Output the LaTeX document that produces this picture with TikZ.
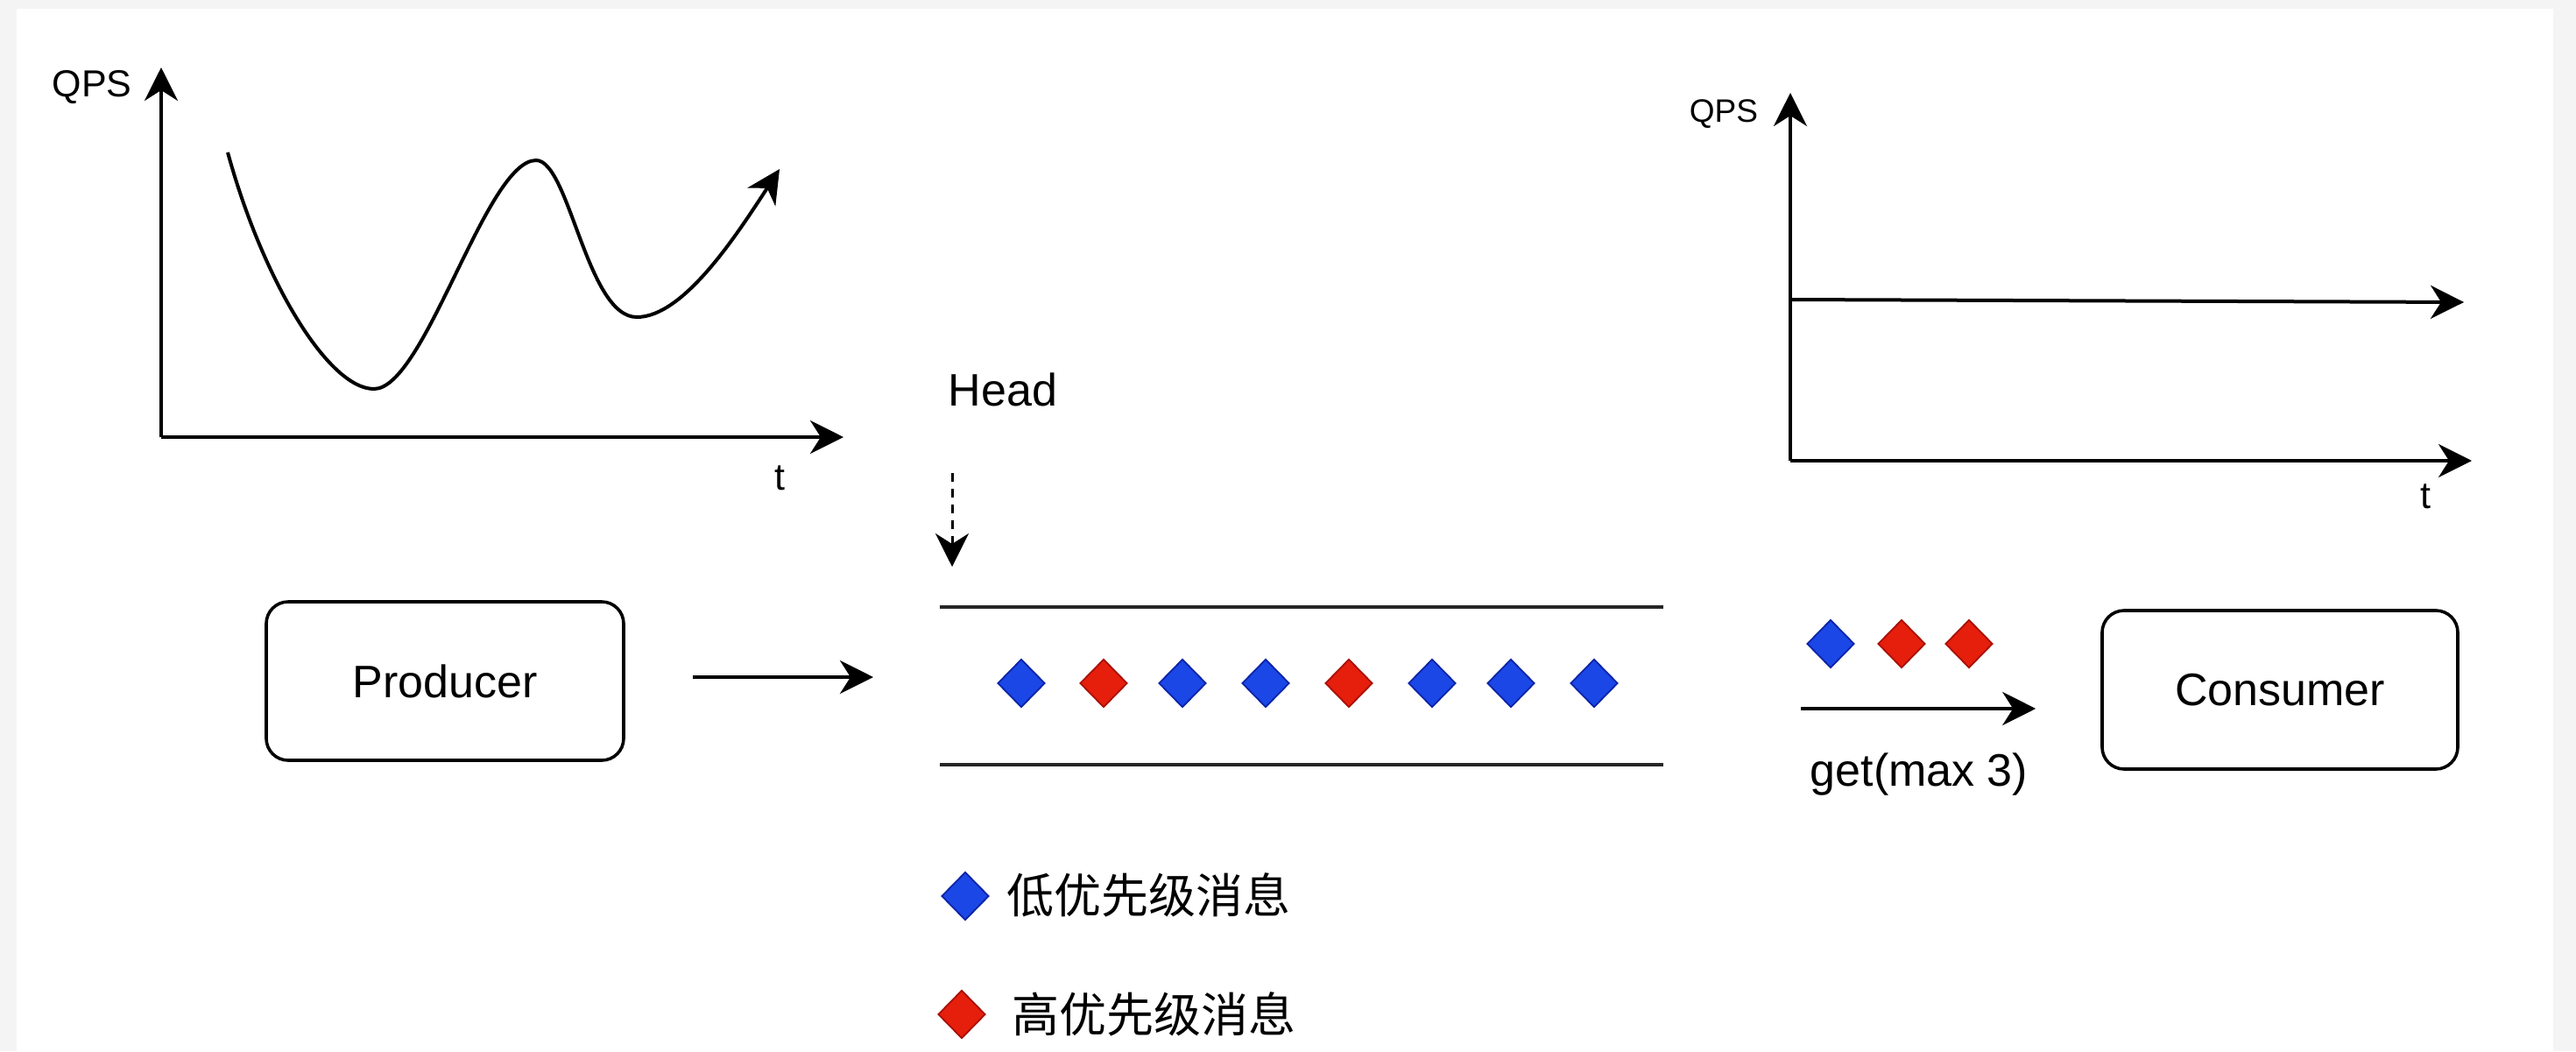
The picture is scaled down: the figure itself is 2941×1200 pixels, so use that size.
\documentclass[tikz,border=0pt]{standalone}
\usepackage{fontspec}
\setmainfont{Liberation Sans}
\newfontfamily\cjk{Noto Sans CJK SC}
\usetikzlibrary{arrows.meta,shapes.geometric}
\definecolor{lowfill}{HTML}{1A47E6}
\definecolor{lowdraw}{HTML}{0D23A8}
\definecolor{highfill}{HTML}{E61E0C}
\definecolor{highdraw}{HTML}{A81008}
\definecolor{margin}{HTML}{F4F4F4}
\tikzset{
  tip/.tip={Stealth[length=19pt,width=19pt,inset=6pt]},
  arr/.style={line width=2pt,-tip},
  headarr/.style={line width=1.5pt,dash pattern=on 5pt off 4pt,-tip},
  axisline/.style={line width=2pt},
  qline/.style={line width=2pt,draw=black!85},
  box/.style={draw,line width=1.8pt,rounded corners=12.5pt,minimum width=204pt,minimum height=90.5pt,inner sep=0pt,font=\fontsize{26}{30}\selectfont},
  lbl/.style={inner sep=0pt,anchor=base,font=\fontsize{26}{30}\selectfont},
  axlbl/.style={inner sep=0pt,anchor=base,font=\fontsize{21.5}{25}\selectfont},
  msg/.style={diamond,minimum width=27pt,minimum height=27.5pt,inner sep=0pt,line width=0.9pt},
  low/.style={msg,fill=lowfill,draw=lowdraw},
  high/.style={msg,fill=highfill,draw=highdraw},
  legend/.style={inner sep=0pt,anchor=west,font=\cjk\fontsize{27}{30}\selectfont}
}
\begin{document}
\begin{tikzpicture}[x=0.5pt,y=-0.5pt]
\useasboundingbox (0,0) rectangle (2941,1200);
\fill[margin] (0,0) rectangle (2941,1200);
\fill[white] (19,10) rectangle (2915,1200);

% left chart
\coordinate (o1) at (184,499);
\coordinate (y1) at (184,77);
\coordinate (x1) at (963,499);
\draw[axisline,-tip] (o1) -- (y1);
\draw[axisline,-tip] (o1) -- (x1);
\node[axlbl] (qps1) at (105,110) {QPS};
\node[axlbl] (t1) at (890,559) {t};
\coordinate (c0) at (260,174);
\coordinate (c1) at (427,444);
\coordinate (c2) at (612,183);
\coordinate (c3) at (727,362);
\coordinate (c4) at (890,193);
\draw[line width=2pt,-tip]
  (c0) .. controls (300,320) and (375,444) .. (c1)
       .. controls (485,444) and (555,183) .. (c2)
       .. controls (650,183) and (670,362) .. (c3)
       .. controls (780,362) and (840,270) .. (c4);

% right chart
\coordinate (o2) at (2044,526);
\coordinate (y2) at (2044,106);
\coordinate (x2) at (2822,526);
\coordinate (k0) at (2044,342);
\coordinate (k1) at (2813,345);
\draw[axisline,-tip] (o2) -- (y2);
\draw[axisline,-tip] (o2) -- (x2);
\draw[axisline,-tip] (k0) -- (k1);
\node[axlbl,font=\fontsize{18.5}{22}\selectfont] (qps2) at (1968,139) {QPS};
\node[axlbl] (t2) at (2769,580) {t};

% producer
\node[box] (prod) at (508,777.5) {Producer};
\coordinate (qin) at (1073,773);
\draw[arr,shorten <=38.5pt,shorten >=38pt] (prod.east |- qin) -- (qin);

% head
\node[lbl] (head) at (1145,463) {Head};
\coordinate (hs) at (1087,540);
\coordinate (he) at (1087,647);
\draw[headarr] (hs) -- (he);

% queue
\coordinate (qa) at (1073,693);
\coordinate (qb) at (1899,693);
\coordinate (qc) at (1073,873);
\coordinate (qd) at (1899,873);
\draw[qline] (qa) -- (qb);
\draw[qline] (qc) -- (qd);
\node[low]  (m1) at (1166,780) {};
\node[high] (m2) at (1260,780) {};
\node[low]  (m3) at (1350,780) {};
\node[low]  (m4) at (1445,780) {};
\node[high] (m5) at (1540,780) {};
\node[low]  (m6) at (1635,780) {};
\node[low]  (m7) at (1725,780) {};
\node[low]  (m8) at (1820,780) {};

% consumer
\node[box,minimum width=203pt] (cons) at (2603,787.5) {Consumer};
\coordinate (gs) at (2056,809);
\draw[arr,shorten >=37pt] (gs) -- (gs -| cons.west);
\node[low]  (g1) at (2090,735) {};
\node[high] (g2) at (2171,735) {};
\node[high] (g3) at (2248,735) {};
\node[lbl] (get) at (2191,897) {get(max 3)};

% legend
\node[low]  (l1) at (1102,1023) {};
\node[legend] (l1t) at (1149,1022) {低优先级消息};
\node[high] (l2) at (1098,1158) {};
\node[legend] (l2t) at (1155,1158) {高优先级消息};
\end{tikzpicture}
\end{document}
